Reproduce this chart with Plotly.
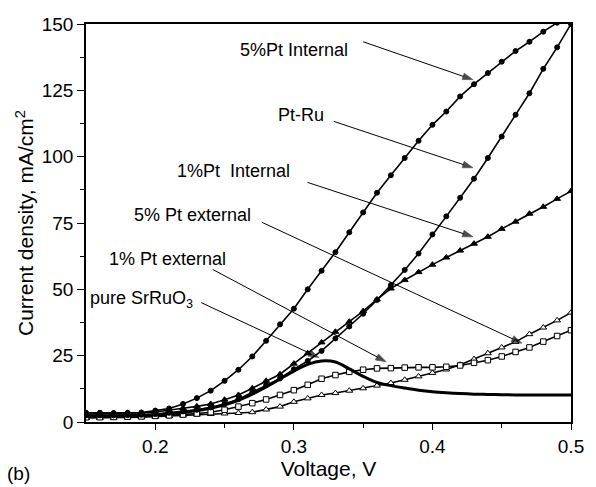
import plotly.graph_objects as go

voltage = [round(0.15 + 0.01 * i, 2) for i in range(36)]

pt5_internal = [3.5, 3.5, 3.4, 3.5, 3.6, 4.3, 5.1, 6.8, 9.0, 11.8, 15.5, 19.7, 24.7, 30.6,
                36.8, 42.7, 50.0, 57.0, 64.0, 71.5, 79.0, 86.4, 93.0, 99.5, 106.0, 112.0,
                117.0, 122.7, 127.3, 131.5, 135.8, 139.8, 143.3, 147.1, 150.5, 154.0]
pt_ru = [2.5, 2.5, 2.5, 2.6, 2.7, 3.0, 3.5, 4.0, 4.6, 5.5, 6.8, 8.6, 11.2, 13.9, 16.4,
         19.9, 23.0, 26.8, 31.5, 36.0, 40.8, 46.0, 51.6, 57.3, 63.5, 70.7, 77.5, 84.5,
         91.7, 99.5, 107.6, 115.8, 123.9, 133.1, 141.2, 150.0]
pt1_internal = [3.0, 3.1, 3.1, 3.2, 3.4, 3.8, 4.4, 5.2, 5.9, 6.8, 8.4, 10.2, 12.7, 15.5,
                18.0, 22.0, 25.9, 30.0, 34.0, 37.8, 41.8, 46.2, 50.3, 53.5, 56.5, 59.3,
                62.0, 64.6, 67.2, 69.8, 72.8, 75.5, 78.5, 81.1, 84.1, 87.0]
pt5_external = [1.5, 1.5, 1.6, 1.7, 1.8, 2.0, 2.2, 2.5, 2.8, 3.0, 3.2, 3.4, 3.7, 4.7,
                5.8, 7.6, 8.9, 10.2, 10.9, 11.8, 12.7, 13.7, 14.7, 15.9, 17.2, 18.5,
                19.8, 21.6, 23.7, 25.9, 28.1, 30.2, 33.1, 35.6, 38.3, 41.2]
pt1_external = [1.8, 1.8, 1.9, 2.0, 2.1, 2.3, 2.5, 2.8, 3.2, 3.7, 4.6, 5.8, 7.1, 8.5,
                10.2, 12.0, 14.0, 16.3, 17.7, 18.9, 19.7, 20.2, 20.3, 20.5, 20.6, 20.6,
                20.8, 21.3, 22.3, 23.3, 24.7, 26.4, 28.1, 30.3, 32.4, 34.6]
pure_srruo3 = [2.3, 2.3, 2.3, 2.4, 2.5, 2.7, 3.1, 3.6, 4.3, 5.2, 6.5, 8.2, 10.5, 13.2,
               16.2, 19.2, 21.7, 23.0, 22.6, 20.0, 17.2, 14.9, 13.7, 12.8, 12.0, 11.4,
               11.0, 10.7, 10.5, 10.4, 10.3, 10.2, 10.2, 10.2, 10.2, 10.2]

label_names = ["5%Pt Internal", "Pt-Ru", "1%Pt\u00a0\u00a0Internal", "5% Pt external",
               "1% Pt external", "pure SrRuO<sub>3</sub>"]
label_pos = [(0.3002, 140.2), (0.3048, 115.8), (0.2563, 94.7), (0.2265, 78.2),
             (0.2088, 61.3), (0.1904, 46.2)]
arrow_tail = [(0.3500, 143.3), (0.3288, 113.3), (0.3099, 90.3), (0.2768, 75.3),
              (0.2414, 57.5), (0.2331, 45.0)]
arrow_tip = [(0.4293, 129.0), (0.4293, 95.8), (0.4293, 69.8), (0.4646, 29.7),
             (0.3666, 22.7), (0.3181, 24.3)]

x_ticks = [0.2, 0.3, 0.4, 0.5]
y_ticks = [0, 25, 50, 75, 100, 125, 150]

FONT = "Liberation Sans, Arial, sans-serif"

fig = go.Figure()

def marker_trace(y, symbol, filled, size):
    fig.add_trace(go.Scatter(
        x=voltage, y=y, mode="lines+markers",
        line=dict(color="black", width=1.6),
        marker=dict(symbol=symbol, size=size,
                    color="black" if filled else "white",
                    line=dict(color="black", width=1)),
        showlegend=False))

marker_trace(pt5_external, "triangle-up", False, 6)
marker_trace(pt1_external, "square", False, 5.5)
fig.add_trace(go.Scatter(x=voltage, y=pure_srruo3, mode="lines",
                         line=dict(color="black", width=3, shape="spline"),
                         showlegend=False))
marker_trace(pt1_internal, "triangle-up", True, 6)
marker_trace(pt_ru, "circle", True, 5)
marker_trace(pt5_internal, "circle", True, 5)

# pointer arrows: line from tail to tip with an arrow marker at the tip
for (ax, ay), (hx, hy) in zip(arrow_tail, arrow_tip):
    fig.add_trace(go.Scatter(
        x=[ax, hx], y=[ay, hy], mode="lines+markers",
        line=dict(color="black", width=1),
        marker=dict(symbol=["circle", "arrow"], size=[0, 11], angleref="previous",
                    color="black", line=dict(color="black", width=0.6)),
        showlegend=False, hoverinfo="skip"))

annotations = []
for name, (tx, ty) in zip(label_names, label_pos):
    annotations.append(dict(x=tx, y=ty, xref="x", yref="y", text=name, showarrow=False,
                            font=dict(family=FONT, size=18, color="black")))

pw, ph = 596 - 86 - 16, 487 - 24 - 64
annotations.append(dict(x=(17 - 86) / pw, y=(487 - 64 - 475) / ph, xref="paper",
                        yref="paper", text="(b)", showarrow=False,
                        xanchor="center", yanchor="middle",
                        font=dict(family=FONT, size=19, color="black")))

fig.update_layout(
    width=596, height=487,
    margin=dict(l=86, r=16, t=24, b=64),
    paper_bgcolor="white", plot_bgcolor="white",
    font=dict(family=FONT, color="black"),
    annotations=annotations,
)

fig.update_xaxes(
    range=[0.15, 0.5], tickvals=x_ticks, ticktext=[str(v) for v in x_ticks],
    ticks="outside", ticklen=6, tickwidth=1.3, tickcolor="black",
    minor=dict(tickvals=[0.25, 0.35, 0.45], ticks="outside", ticklen=4,
               tickwidth=1.3, tickcolor="black"),
    showline=True, linecolor="black", linewidth=1.5, mirror=True,
    showgrid=False, zeroline=False,
    tickfont=dict(family=FONT, size=19),
    title=dict(text="Voltage, V", font=dict(family=FONT, size=21), standoff=4),
)
fig.update_yaxes(
    range=[0, 150], tickvals=y_ticks, ticktext=[str(v) for v in y_ticks],
    ticks="outside", ticklen=7, tickwidth=1.3, tickcolor="black",
    minor=dict(tickvals=[12.5, 37.5, 62.5, 87.5, 112.5, 137.5], ticks="outside",
               ticklen=4, tickwidth=1.3, tickcolor="black"),
    showline=True, linecolor="black", linewidth=1.5, mirror=True,
    showgrid=False, zeroline=False,
    tickfont=dict(family=FONT, size=19),
    title=dict(text="Current density, mA/cm<sup>2</sup>", font=dict(family=FONT, size=21),
               standoff=2),
)

fig.write_html("out.html")
